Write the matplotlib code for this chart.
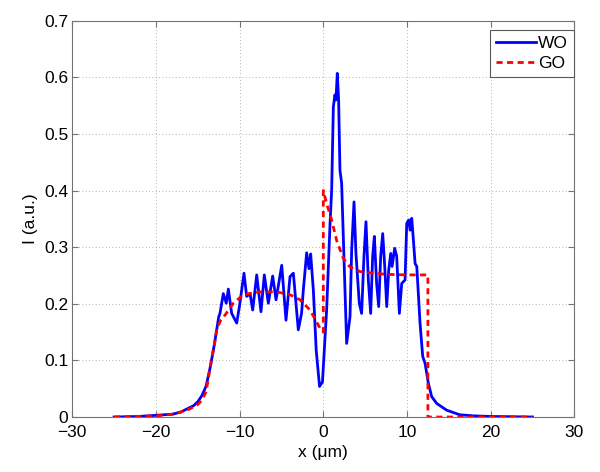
import matplotlib.pyplot as plt

plt.rcParams['font.family'] = ['Liberation Sans', 'DejaVu Sans']

# WO (wave optics) intensity profile
wo_x = [-25, -22, -20, -18, -17, -16.2, -15.5, -15, -14.5, -14, -13.5, -13, -12.5,
        -12.35, -11.95, -11.6, -11.35, -10.95, -10.35, -10.0, -9.48, -9.16, -8.76,
        -8.44, -7.96, -7.45, -7.05, -6.57, -6.05, -5.65, -4.97, -4.46, -3.98, -3.58,
        -2.99, -2.6, -2.39, -1.99, -1.71, -1.51, -1.19, -0.85, -0.45, -0.1, 0.4, 0.8,
        1.0, 1.2, 1.39, 1.51, 1.67, 1.83, 1.99, 2.19, 2.79, 3.19, 3.39, 3.67, 3.9,
        4.3, 4.58, 4.86, 5.1, 5.38, 5.66, 5.9, 6.1, 6.37, 6.62, 6.86, 7.1, 7.34,
        7.58, 7.82, 8.06, 8.22, 8.53, 8.77, 9.09, 9.37, 9.77, 9.97, 10.2, 10.37,
        10.57, 10.77, 10.97, 11.17, 11.56, 11.88, 12.16, 12.55, 12.95, 13.55, 14.75,
        16.3, 18, 20, 25]
wo_y = [0.0, 0.001, 0.003, 0.005, 0.009, 0.015, 0.02, 0.027, 0.038, 0.055, 0.089, 0.13, 0.177,
        0.183, 0.218, 0.201, 0.226, 0.183, 0.166, 0.198, 0.254, 0.213, 0.218,
        0.189, 0.251, 0.186, 0.251, 0.201, 0.249, 0.207, 0.268, 0.171, 0.248, 0.254,
        0.154, 0.183, 0.224, 0.290, 0.262, 0.288, 0.224, 0.118, 0.054, 0.062, 0.19, 0.34,
        0.401, 0.548, 0.569, 0.560, 0.607, 0.56, 0.436, 0.413, 0.130, 0.177, 0.295, 0.38, 0.289,
        0.201, 0.183, 0.284, 0.345, 0.242, 0.183, 0.284, 0.319, 0.236, 0.195, 0.284, 0.324, 0.266,
        0.195, 0.260, 0.289, 0.266, 0.298, 0.284, 0.183, 0.236, 0.242, 0.342, 0.348, 0.330,
        0.351, 0.312, 0.271, 0.266, 0.166, 0.107, 0.095, 0.060, 0.036, 0.024, 0.012,
        0.004, 0.002, 0.001, 0.0]

# GO (geometrical optics) profile
go_x = [-25, -20, -18, -17, -16, -15, -14.5, -14, -13.5, -13, -12.75, -12.3, -11.75,
        -10.75, -9.56, -7.57, -5.57, -3.98, -2.78, -1.59, -0.4, 0, 0, 0.4, 1.0, 1.59,
        2.39, 3.19, 4.38, 5.98, 7.58, 10, 12.5, 12.5, 25]
go_y = [0, 0.002, 0.005, 0.009, 0.014, 0.022, 0.03, 0.045, 0.09, 0.13, 0.154, 0.17, 0.18,
        0.201, 0.216, 0.221, 0.221, 0.216, 0.207, 0.189, 0.157, 0.15, 0.40, 0.377, 0.348, 0.312,
        0.280, 0.265, 0.257, 0.254, 0.252, 0.251, 0.251, 0, 0]

xticks = [-30, -20, -10, 0, 10, 20, 30]
yticks = [0, 0.1, 0.2, 0.3, 0.4, 0.5, 0.6, 0.7]
ytick_labels = ['0', '0.1', '0.2', '0.3', '0.4', '0.5', '0.6', '0.7']

fs = 12.5

fig = plt.figure(figsize=(6, 4.72), dpi=100)
ax = fig.add_axes([0.1205, 0.1165, 0.8367, 0.8396])

ax.plot(wo_x, wo_y, color='b', lw=2, label='WO')
ax.plot(go_x, go_y, color='r', lw=2, linestyle='--', dashes=(2.2, 1.6), label='GO')

ax.set_xlim(-30, 30)
ax.set_ylim(0, 0.7)
ax.set_xticks(xticks)
ax.set_xticklabels([str(t).replace('-', '\u2212') for t in xticks])
ax.set_yticks(yticks)
ax.set_yticklabels(ytick_labels)
ax.tick_params(direction='in', length=4, width=0.8, color='0.45',
               top=True, right=True, labelsize=fs)
ax.tick_params(axis='x', pad=6)
ax.tick_params(axis='y', pad=3)
for s in ax.spines.values():
    s.set_color('0.45')
    s.set_linewidth(0.8)

ax.grid(True, linestyle=(0, (1, 3)), color='0.6', linewidth=0.6)

ax.set_xlabel('x (\u03bcm)', fontsize=fs, labelpad=3)
ax.set_ylabel('I (a.u.)', fontsize=fs, labelpad=4)

leg = ax.legend(loc='upper right', fontsize=fs, handlelength=2.3, handletextpad=0.15,
                borderaxespad=0.0, bbox_to_anchor=(1.0, 0.976), fancybox=False,
                framealpha=1, borderpad=0.35, labelspacing=0.25)
leg.get_frame().set_edgecolor('0.35')
leg.get_frame().set_linewidth(0.8)

plt.savefig('out.png', dpi=100)
